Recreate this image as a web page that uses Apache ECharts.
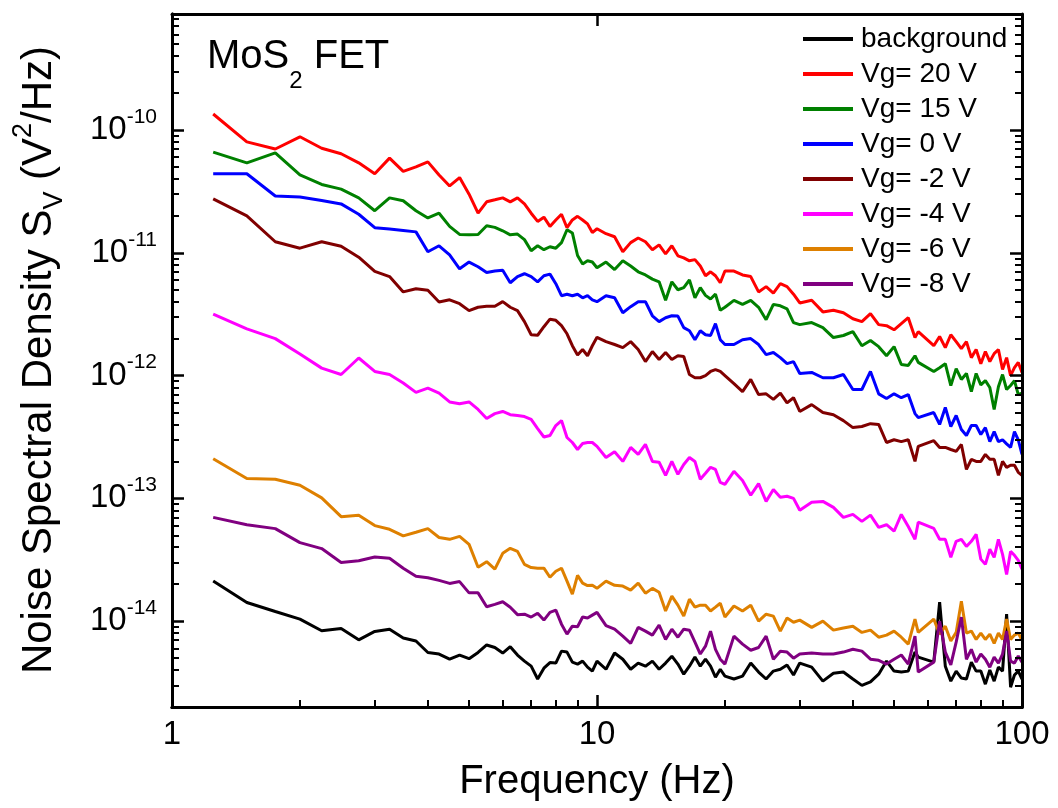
<!DOCTYPE html>
<html>
<head>
<meta charset="utf-8">
<title>MoS2 FET noise spectra</title>
<script src="https://cdn.jsdelivr.net/npm/echarts@6/dist/echarts.min.js"></script>
<style>
  html, body { margin: 0; padding: 0; background: #fff; }
  #main { position: absolute; left: 0; top: 0; width: 1058px; height: 808px; }
  #frame { position: absolute; left: 0; top: 0; width: 1058px; height: 808px; pointer-events: none; z-index: 2; }
</style>
</head>
<body>
<div id="main"></div>
<div id="frame"></div>
<script>
// frequency bins (Hz)
var freq = [
  1.25, 1.5, 1.75, 2, 2.25, 2.5, 2.75, 3, 3.25, 3.5,
  3.75, 4, 4.25, 4.5, 4.75, 5, 5.25, 5.5, 5.75, 6,
  6.25, 6.5, 6.75, 7, 7.25, 7.5, 7.75, 8, 8.25, 8.5,
  8.75, 9, 9.25, 9.5, 9.75, 10, 10.5, 11, 11.5, 12,
  12.5, 13, 13.5, 14, 14.5, 15, 15.5, 16, 16.5, 17,
  17.5, 18, 18.5, 19, 19.5, 20, 21, 22, 23, 24,
  25, 26, 27, 28, 29, 30, 32, 34, 36, 38,
  40, 42, 44, 46, 48, 50, 52, 54, 56, 57,
  62, 64, 66, 68, 70, 72, 74, 76, 78, 80,
  82, 84, 86, 88, 90, 92, 94, 96, 98, 100
];

// noise spectral density S_V (V^2/Hz)
var background = [
  2.12e-14, 1.42e-14, 1.2e-14, 1.04e-14, 8.35e-15, 8.7e-15, 7.05e-15, 8.25e-15, 8.6e-15, 7.3e-15,
  6.9e-15, 5.56e-15, 5.4e-15, 4.9e-15, 5.3e-15, 4.95e-15, 5.56e-15, 6.4e-15, 6.1e-15, 5.5e-15,
  6.2e-15, 5.3e-15, 4.73e-15, 4.3e-15, 3.38e-15, 4.14e-15, 4.6e-15, 4.56e-15, 5.7e-15, 5.6e-15,
  4.64e-15, 4.47e-15, 4.73e-15, 4.22e-15, 3.92e-15, 4.73e-15, 4.06e-15, 5.5e-15, 4.9e-15, 4.06e-15,
  4.56e-15, 4.3e-15, 4.73e-15, 4.06e-15, 4.56e-15, 5.19e-15, 4.47e-15, 3.7e-15, 4.3e-15, 5.1e-15,
  4.3e-15, 4.9e-15, 4.3e-15, 3.5e-15, 4.06e-15, 3.57e-15, 3.38e-15, 3.57e-15, 4.56e-15, 3.85e-15,
  3.38e-15, 3.92e-15, 4.06e-15, 4.4e-15, 3.64e-15, 4.56e-15, 4.22e-15, 3.25e-15, 3.77e-15, 3.85e-15,
  3.38e-15, 3.0e-15, 3.2e-15, 3.7e-15, 4.73e-15, 3.92e-15, 3.85e-15, 3.92e-15, 5.6e-15, 5.1e-15,
  4.64e-15, 1.43e-14, 4.3e-15, 3.25e-15, 3.92e-15, 3.44e-15, 3.38e-15, 4.64e-15, 3.92e-15, 3.92e-15,
  3.07e-15, 4.0e-15, 3.25e-15, 4.22e-15, 3.92e-15, 1.14e-14, 2.9e-15, 3.64e-15, 3.92e-15, 3.38e-15
];
var vg20 = [
  1.35e-10, 8.0e-11, 7.0e-11, 8.8e-11, 7.1e-11, 6.4e-11, 5.4e-11, 4.4e-11, 5.9e-11, 4.6e-11,
  5.0e-11, 5.5e-11, 4.3e-11, 3.5e-11, 4.1e-11, 3.0e-11, 2.1e-11, 2.6e-11, 2.7e-11, 2.8e-11,
  2.6e-11, 2.8e-11, 2.5e-11, 2.1e-11, 1.8e-11, 1.95e-11, 1.64e-11, 1.85e-11, 2.06e-11, 1.6e-11,
  1.85e-11, 1.98e-11, 1.85e-11, 1.72e-11, 1.46e-11, 1.57e-11, 1.43e-11, 1.35e-11, 1.02e-11, 1.21e-11,
  1.32e-11, 1.23e-11, 1.06e-11, 1.16e-11, 9.8e-12, 1.14e-11, 9.45e-12, 9.1e-12, 8.6e-12, 8.8e-12,
  7.8e-12, 6.5e-12, 7.0e-12, 6.5e-12, 5.7e-12, 7.1e-12, 7.1e-12, 6.6e-12, 6.4e-12, 4.8e-12,
  5.3e-12, 4.7e-12, 5.6e-12, 5.3e-12, 4.6e-12, 3.9e-12, 4.1e-12, 3.3e-12, 3.4e-12, 3.25e-12,
  2.9e-12, 2.75e-12, 3.2e-12, 2.6e-12, 2.55e-12, 2.36e-12, 2.65e-12, 2.96e-12, 2.04e-12, 2.28e-12,
  1.75e-12, 2.08e-12, 1.69e-12, 2.15e-12, 1.89e-12, 1.66e-12, 1.89e-12, 1.4e-12, 1.63e-12, 1.25e-12,
  1.57e-12, 1.3e-12, 1.51e-12, 1.63e-12, 1.12e-12, 1.4e-12, 1.0e-12, 1.16e-12, 1.28e-12, 1.06e-12
];
var vg15 = [
  6.6e-11, 5.4e-11, 6.5e-11, 4.3e-11, 3.6e-11, 3.3e-11, 2.8e-11, 2.2e-11, 2.8e-11, 2.65e-11,
  2.2e-11, 1.92e-11, 2.1e-11, 1.64e-11, 1.41e-11, 1.4e-11, 1.41e-11, 1.66e-11, 1.61e-11, 1.51e-11,
  1.4e-11, 1.42e-11, 1.28e-11, 1.04e-11, 1.14e-11, 1.06e-11, 1.12e-11, 1.09e-11, 1.21e-11, 1.54e-11,
  1.45e-11, 9.5e-12, 8.1e-12, 8.6e-12, 8.4e-12, 7.55e-12, 8.4e-12, 7.3e-12, 8.6e-12, 7.8e-12,
  7.0e-12, 6.6e-12, 6.1e-12, 5.8e-12, 4.1e-12, 5.8e-12, 5.0e-12, 5.2e-12, 6.0e-12, 4.3e-12,
  5.2e-12, 4.5e-12, 4.2e-12, 4.6e-12, 3.4e-12, 3.6e-12, 4.1e-12, 3.8e-12, 4.1e-12, 3.6e-12,
  2.85e-12, 3.8e-12, 3.7e-12, 3.5e-12, 2.7e-12, 2.6e-12, 2.7e-12, 2.46e-12, 2.04e-12, 2.12e-12,
  2.28e-12, 1.75e-12, 1.93e-12, 1.72e-12, 1.45e-12, 1.72e-12, 1.23e-12, 1.21e-12, 1.45e-12, 1.28e-12,
  1.08e-12, 1.16e-12, 1.25e-12, 8.3e-13, 1.14e-12, 9.3e-13, 1.04e-12, 7.4e-13, 1.04e-12, 8.4e-13,
  9.1e-13, 8.0e-13, 5.3e-13, 8.1e-13, 1.02e-12, 7.7e-13, 8.3e-13, 9.1e-13, 7.0e-13, 7.2e-13
];
var vg0 = [
  4.4e-11, 4.4e-11, 2.9e-11, 2.85e-11, 2.67e-11, 2.5e-11, 2.06e-11, 1.6e-11, 1.56e-11, 1.52e-11,
  1.48e-11, 1.02e-11, 1.14e-11, 9.6e-12, 7.4e-12, 8.4e-12, 7.7e-12, 6.9e-12, 7.1e-12, 7.2e-12,
  5.7e-12, 6.4e-12, 6.75e-12, 6.4e-12, 5.8e-12, 6.5e-12, 6.7e-12, 5.6e-12, 4.47e-12, 4.6e-12,
  4.47e-12, 4.6e-12, 4.3e-12, 4.47e-12, 4.14e-12, 4.0e-12, 4.47e-12, 4.3e-12, 3.25e-12, 3.64e-12,
  4.0e-12, 4.0e-12, 3.07e-12, 2.75e-12, 2.96e-12, 3.07e-12, 3.05e-12, 2.46e-12, 2.32e-12, 1.96e-12,
  2.32e-12, 2.15e-12, 2.12e-12, 2.65e-12, 1.96e-12, 1.79e-12, 1.79e-12, 1.96e-12, 2.0e-12, 1.79e-12,
  1.48e-12, 1.54e-12, 1.4e-12, 1.25e-12, 1.3e-12, 1.04e-12, 1.06e-12, 9.6e-13, 9.6e-13, 1.02e-12,
  7.7e-13, 7.7e-13, 1.08e-12, 7.1e-13, 6.5e-13, 7.1e-13, 6.6e-13, 7.0e-13, 4.9e-13, 4.55e-13,
  5.0e-13, 4.0e-13, 5.5e-13, 3.85e-13, 4.73e-13, 3.64e-13, 3.25e-13, 3.92e-13, 3.92e-13, 3.31e-13,
  3.77e-13, 2.9e-13, 3.5e-13, 2.9e-13, 3.0e-13, 2.78e-13, 2.6e-13, 3.5e-13, 3.0e-13, 2.28e-13
];
var vgm2 = [
  2.75e-11, 2.0e-11, 1.23e-11, 1.09e-11, 1.23e-11, 1.13e-11, 9.2e-12, 7.05e-12, 6.4e-12, 4.8e-12,
  5.1e-12, 4.95e-12, 3.97e-12, 4.14e-12, 3.85e-12, 3.38e-12, 3.6e-12, 3.67e-12, 3.67e-12, 4.0e-12,
  3.6e-12, 3.38e-12, 2.75e-12, 2.15e-12, 2.13e-12, 2.5e-12, 2.88e-12, 2.82e-12, 2.55e-12, 2.19e-12,
  1.75e-12, 1.47e-12, 1.63e-12, 1.45e-12, 1.75e-12, 2.05e-12, 1.89e-12, 1.79e-12, 1.69e-12, 1.89e-12,
  1.63e-12, 1.3e-12, 1.57e-12, 1.35e-12, 1.54e-12, 1.35e-12, 1.45e-12, 1.43e-12, 1.02e-12, 9.6e-13,
  9.6e-13, 1.0e-12, 1.08e-12, 1.12e-12, 1.08e-12, 1.0e-12, 8.6e-13, 7.4e-13, 9.3e-13, 7.0e-13,
  7.1e-13, 6.4e-13, 7.2e-13, 6.0e-13, 6.6e-13, 5.1e-13, 5.8e-13, 5.0e-13, 4.8e-13, 4.3e-13,
  3.77e-13, 3.85e-13, 4.06e-13, 4.0e-13, 2.85e-13, 3.0e-13, 2.9e-13, 3.0e-13, 2.0e-13, 2.65e-13,
  2.95e-13, 2.6e-13, 2.6e-13, 2.5e-13, 2.41e-13, 2.75e-13, 1.72e-13, 2.08e-13, 2.0e-13, 2.0e-13,
  2.28e-13, 2.08e-13, 2.08e-13, 1.54e-13, 2.0e-13, 1.79e-13, 1.86e-13, 1.86e-13, 1.63e-13, 1.54e-13
];
var vgm4 = [
  3.17e-12, 2.4e-12, 2.0e-12, 1.5e-12, 1.15e-12, 1.02e-12, 1.39e-12, 1.08e-12, 1.02e-12, 8.7e-13,
  7.3e-13, 7.9e-13, 7.2e-13, 6.1e-13, 5.9e-13, 6.1e-13, 5.3e-13, 4.47e-13, 4.9e-13, 5.1e-13,
  4.8e-13, 4.73e-13, 4.64e-13, 4.4e-13, 3.7e-13, 3.16e-13, 3.25e-13, 3.92e-13, 4.3e-13, 3.13e-13,
  2.85e-13, 2.5e-13, 2.8e-13, 2.85e-13, 2.85e-13, 2.65e-13, 2.15e-13, 2.4e-13, 2.0e-13, 2.6e-13,
  2.28e-13, 2.75e-13, 2.0e-13, 1.97e-13, 1.54e-13, 2.0e-13, 1.57e-13, 1.89e-13, 2.15e-13, 2.0e-13,
  1.43e-13, 1.6e-13, 1.79e-13, 1.72e-13, 1.35e-13, 1.3e-13, 1.66e-13, 1.4e-13, 1.06e-13, 1.32e-13,
  9.45e-14, 1.18e-13, 1.02e-13, 1.04e-13, 1.0e-13, 8.0e-14, 9.3e-14, 9.45e-14, 8.45e-14, 7.0e-14,
  7.4e-14, 6.5e-14, 7.3e-14, 5.8e-14, 6.1e-14, 5.4e-14, 7.4e-14, 5.9e-14, 4.64e-14, 6.4e-14,
  5.7e-14, 4.64e-14, 4.64e-14, 3.31e-14, 4.47e-14, 4.64e-14, 4.06e-14, 4.47e-14, 5.1e-14, 3.2e-14,
  2.9e-14, 3.85e-14, 3.31e-14, 4.64e-14, 3.5e-14, 2.4e-14, 3.7e-14, 3.44e-14, 3.13e-14, 2.65e-14
];
var vgm6 = [
  2.1e-13, 1.45e-13, 1.43e-13, 1.28e-13, 1.01e-13, 7.1e-14, 7.3e-14, 6.0e-14, 5.6e-14, 4.95e-14,
  5.3e-14, 5.67e-14, 4.8e-14, 4.64e-14, 4.9e-14, 4.22e-14, 2.75e-14, 3.05e-14, 2.65e-14, 3.57e-14,
  3.92e-14, 3.7e-14, 2.9e-14, 2.73e-14, 2.7e-14, 2.7e-14, 2.28e-14, 2.55e-14, 2.7e-14, 2.12e-14,
  1.66e-14, 2.36e-14, 2.04e-14, 1.95e-14, 1.96e-14, 1.85e-14, 2.12e-14, 1.96e-14, 1.93e-14, 1.79e-14,
  2.04e-14, 1.69e-14, 1.85e-14, 1.72e-14, 1.21e-14, 1.6e-14, 1.35e-14, 1.1e-14, 1.51e-14, 1.3e-14,
  1.35e-14, 1.35e-14, 1.21e-14, 1.3e-14, 1.4e-14, 1.08e-14, 1.33e-14, 1.21e-14, 1.35e-14, 1.0e-14,
  1.14e-14, 1.1e-14, 8.3e-15, 1.06e-14, 9.8e-15, 1.02e-14, 8.9e-15, 1.0e-14, 8.45e-15, 8.8e-15,
  9.1e-15, 8.1e-15, 8.45e-15, 7.4e-15, 7.7e-15, 8.3e-15, 7.4e-15, 6.5e-15, 1.04e-14, 8.1e-15,
  1.04e-14, 7.84e-15, 9.1e-15, 6.9e-15, 8.1e-15, 1.45e-14, 8.0e-15, 8.3e-15, 7.1e-15, 8.0e-15,
  7.1e-15, 7.84e-15, 6.6e-15, 8.0e-15, 7.1e-15, 1.04e-14, 7.1e-15, 7.7e-15, 8.0e-15, 7.0e-15
];
var vgm8 = [
  7.0e-14, 6.1e-14, 5.67e-14, 4.36e-14, 3.9e-14, 3.0e-14, 3.1e-14, 3.33e-14, 3.25e-14, 2.7e-14,
  2.32e-14, 2.26e-14, 2.15e-14, 2.03e-14, 2.1e-14, 1.7e-14, 1.7e-14, 1.31e-14, 1.37e-14, 1.44e-14,
  1.3e-14, 1.13e-14, 1.14e-14, 1.08e-14, 1.16e-14, 1.02e-14, 1.18e-14, 1.23e-14, 9.45e-15, 7.84e-15,
  9.1e-15, 9.0e-15, 1.08e-14, 1.06e-14, 1.12e-14, 1.18e-14, 9.2e-15, 8.6e-15, 7.55e-15, 6.6e-15,
  8.9e-15, 8.3e-15, 7.7e-15, 9.3e-15, 7.1e-15, 8.6e-15, 7.4e-15, 8.6e-15, 8.45e-15, 6.75e-15,
  5.4e-15, 6.26e-15, 8.3e-15, 5.9e-15, 4.9e-15, 4.47e-15, 7.55e-15, 6.5e-15, 5.8e-15, 6.1e-15,
  7.55e-15, 4.9e-15, 5.7e-15, 5.6e-15, 5.0e-15, 5.4e-15, 5.5e-15, 5.4e-15, 5.4e-15, 5.6e-15,
  5.9e-15, 5.7e-15, 4.9e-15, 4.8e-15, 4.47e-15, 4.9e-15, 5.3e-15, 4.47e-15, 7.55e-15, 3.85e-15,
  4.64e-15, 1.0e-14, 5.6e-15, 4.4e-15, 6.75e-15, 1.08e-14, 4.9e-15, 5.9e-15, 4.64e-15, 5.4e-15,
  4.9e-15, 4.22e-15, 5.1e-15, 4.56e-15, 5.4e-15, 8.3e-15, 4.73e-15, 4.56e-15, 5.2e-15, 4.64e-15
];

var seriesNames = ['background', 'Vg= 20 V', 'Vg= 15 V', 'Vg= 0 V', 'Vg= -2 V', 'Vg= -4 V', 'Vg= -6 V', 'Vg= -8 V'];
var seriesValues = [background, vg20, vg15, vg0, vgm2, vgm4, vgm6, vgm8];
var seriesColors = ['#000000', '#ff0000', '#008000', '#0000ff', '#800000', '#ff00ff', '#de8000', '#800080'];

// axis ranges
var xMin = 1, xMax = 100;
var yMin = 2e-15, yMax = 8.8e-10;

var font = '"Liberation Sans", Arial, Helvetica, sans-serif';
var gridBox = { left: 172, right: 36, top: 14, bottom: 101 };
var frameLine = { show: true, onZero: false, lineStyle: { color: '#000', width: 3 } };

// ---------- main chart: curves, labels, legend, titles ----------
var chart = echarts.init(document.getElementById('main'));

var series = seriesNames.map(function (name, i) {
  return {
    name: name,
    type: 'line',
    data: freq.map(function (f, j) { return [f, seriesValues[i][j]]; }),
    symbol: 'none',
    showSymbol: false,
    color: seriesColors[i],
    lineStyle: { color: seriesColors[i], width: 3 }
  };
});

chart.setOption({
  animation: false,
  backgroundColor: '#ffffff',
  textStyle: { fontFamily: font, color: '#000' },
  title: {
    text: '{a|MoS}{b|2}{a| FET}',
    left: 207,
    top: 37,
    padding: 0,
    textStyle: {
      fontWeight: 'normal',
      rich: {
        a: { fontSize: 40, lineHeight: 56, verticalAlign: 'top', fontFamily: font, color: '#000', fontWeight: 'normal' },
        b: { fontSize: 24, verticalAlign: 'bottom', fontFamily: font, color: '#000', fontWeight: 'normal' }
      }
    }
  },
  legend: {
    data: seriesNames,
    orient: 'vertical',
    left: 803,
    top: 25,
    padding: 0,
    itemWidth: 50,
    itemHeight: 4,
    itemGap: 7,
    icon: 'rect',
    selectedMode: false,
    textStyle: { fontSize: 28, lineHeight: 28, color: '#000', fontFamily: font, padding: [0, 0, 0, 3] }
  },
  graphic: [{
    type: 'text',
    x: 39,
    y: 360,
    rotation: Math.PI / 2,
    silent: true,
    style: {
      text: '{a|Noise Spectral Density S}{b|V}{a| (V}{c|2}{a|/Hz)}',
      align: 'center',
      verticalAlign: 'middle',
      fill: '#000',
      rich: {
        a: { fontSize: 42, lineHeight: 58, verticalAlign: 'middle', fontFamily: font, fill: '#000' },
        b: { fontSize: 27, verticalAlign: 'bottom', fontFamily: font, fill: '#000' },
        c: { fontSize: 27, verticalAlign: 'top', fontFamily: font, fill: '#000' }
      }
    }
  }],
  grid: gridBox,
  xAxis: {
    type: 'log',
    logBase: 10,
    min: xMin,
    max: xMax,
    name: 'Frequency (Hz)',
    nameLocation: 'middle',
    nameGap: 55,
    nameTextStyle: { fontSize: 40, color: '#000', fontFamily: font },
    axisLine: frameLine,
    axisTick: { show: false },
    axisLabel: { fontSize: 33, color: '#000', margin: 11, fontFamily: font },
    splitLine: { show: false }
  },
  yAxis: {
    type: 'log',
    logBase: 10,
    min: yMin,
    max: yMax,
    axisLine: frameLine,
    axisTick: { show: false },
    axisLabel: {
      margin: 15,
      formatter: function (v) {
        var e = Math.log10(v);
        var r = Math.round(e);
        if (Math.abs(e - r) > 1e-6) return '';
        return '{a|10}{b|' + r + '}';
      },
      rich: {
        a: { fontSize: 33, verticalAlign: 'middle', fontFamily: font, color: '#000' },
        b: { fontSize: 21, verticalAlign: 'middle', padding: [0, 0, 26, 0], fontFamily: font, color: '#000' }
      }
    },
    splitLine: { show: false }
  },
  series: series
});

// ---------- overlay chart: closed frame with inward major and minor ticks ----------
var frame = echarts.init(document.getElementById('frame'));
var majorTick = { show: true, inside: true, length: 12, lineStyle: { color: '#000', width: 2.5 } };
var minorTick = { show: true, splitNumber: 9, length: 7, lineStyle: { color: '#000', width: 2 } };
function frameAxis(type, min, max, position) {
  return {
    type: type, logBase: 10, min: min, max: max, position: position,
    axisLine: frameLine, axisTick: majorTick, minorTick: minorTick,
    axisLabel: { show: false }, splitLine: { show: false }
  };
}
frame.setOption({
  animation: false,
  backgroundColor: 'transparent',
  grid: gridBox,
  xAxis: [frameAxis('log', xMin, xMax, 'bottom'), frameAxis('log', xMin, xMax, 'top')],
  yAxis: [frameAxis('log', yMin, yMax, 'left'), frameAxis('log', yMin, yMax, 'right')],
  series: [{ type: 'line', data: [[xMin, yMin]], symbol: 'none', silent: true, lineStyle: { opacity: 0 } }]
});
</script>
</body>
</html>
